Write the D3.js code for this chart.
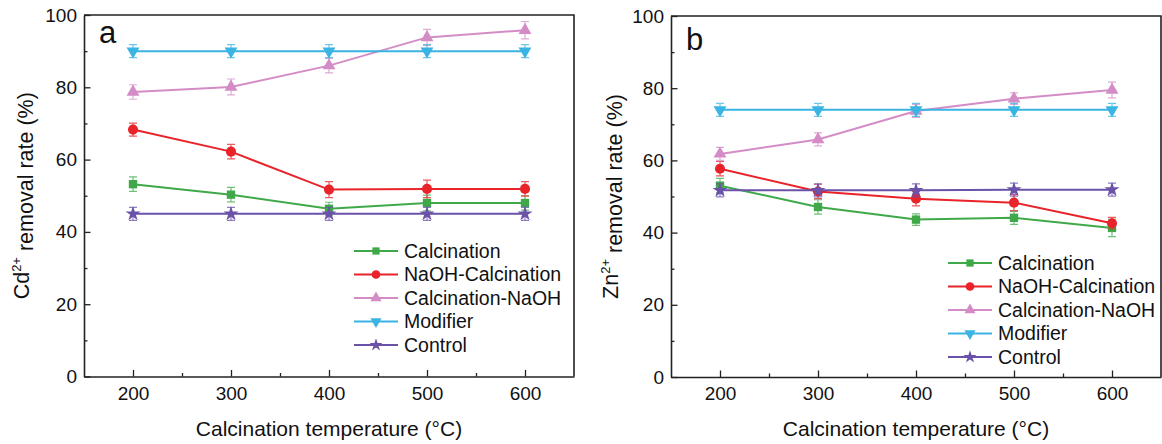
<!DOCTYPE html>
<html lang="en">
<head>
<meta charset="UTF-8">
<title>Removal rate vs calcination temperature</title>
<script src="https://cdn.jsdelivr.net/npm/d3@7"></script>
<style>
    body { margin: 0; background: #fff; }
    svg { font-family: "Liberation Sans", Arial, sans-serif; }
</style>
</head>
<body>
<svg id="chart" width="1162" height="444"></svg>
<script>
    // data
    var temperatures = [200, 300, 400, 500, 600];
    var seriesNames = ["Calcination", "NaOH-Calcination", "Calcination-NaOH", "Modifier", "Control"];
    var seriesColors = ["#3fa94a", "#e8232a", "#d48cc6", "#3ab4e2", "#6b52a9"];
    var seriesSymbols = ["square", "circle", "triangleUp", "triangleDown", "star"];

    var cdCalcination = [53.2, 50.3, 46.4, 48.0, 48.0];
    var cdNaohCalcination = [68.3, 62.2, 51.7, 51.9, 51.9];
    var cdCalcinationNaoh = [78.7, 80.1, 86.0, 93.8, 95.8];
    var cdModifier = [90.0, 90.0, 90.0, 90.0, 90.0];
    var cdControl = [45.0, 45.0, 45.0, 45.0, 45.0];
    var cdCalcinationErr = [2.0, 2.0, 1.8, 2.2, 2.0];
    var cdNaohCalcinationErr = [1.8, 2.0, 2.2, 2.4, 2.0];
    var cdCalcinationNaohErr = [2.0, 2.2, 2.0, 2.2, 2.4];
    var cdModifierErr = [1.8, 1.8, 1.8, 1.8, 1.8];
    var cdControlErr = [1.8, 1.8, 1.8, 1.8, 1.8];

    var znCalcination = [53.0, 47.1, 43.6, 44.1, 41.3];
    var znNaohCalcination = [57.7, 51.4, 49.4, 48.3, 42.6];
    var znCalcinationNaoh = [61.8, 65.8, 73.7, 77.1, 79.5];
    var znModifier = [74.0, 74.0, 74.0, 74.0, 74.0];
    var znControl = [51.7, 51.7, 51.7, 51.9, 51.9];
    var znCalcinationErr = [2.0, 2.0, 1.6, 1.8, 2.4];
    var znNaohCalcinationErr = [2.0, 2.0, 2.0, 2.2, 1.6];
    var znCalcinationNaohErr = [1.8, 1.8, 1.8, 1.6, 2.2];
    var znModifierErr = [1.8, 1.8, 1.8, 1.8, 1.8];
    var znControlErr = [1.8, 1.8, 1.8, 1.8, 1.8];

    var xTicks = [200, 300, 400, 500, 600];
    var xMinorTicks = [250, 350, 450, 550];
    var yTicks = [0, 20, 40, 60, 80, 100];
    var yMinorTicks = [10, 30, 50, 70, 90];

    var svg = d3.select("#chart");

    function symbolPath(kind, size) {
        var type = {
            square: d3.symbolSquare,
            circle: d3.symbolCircle,
            triangleUp: d3.symbolTriangle,
            triangleDown: d3.symbolTriangle,
            star: d3.symbolStar
        }[kind];
        return d3.symbol().type(type).size(size)();
    }
    var symbolSizes = { square: 70, circle: 80, triangleUp: 72, triangleDown: 72, star: 70 };

    function drawPanel(opts) {
        var left = opts.left, top = opts.top, w = 490, h = opts.bottom - opts.top;
        var g = svg.append("g").attr("transform", `translate(${left},${top})`);

        var x = d3.scaleLinear().domain([150, 650]).range([0, w]);
        var y = d3.scaleLinear().domain([0, 100]).range([h, 0]);

        // minor ticks first
        g.append("g")
            .attr("transform", `translate(0,${h})`)
            .call(d3.axisBottom(x).tickValues(xMinorTicks).tickSize(-3.5).tickFormat(""))
            .call(a => a.select(".domain").remove());
        g.append("g")
            .call(d3.axisLeft(y).tickValues(yMinorTicks).tickSize(-3.5).tickFormat(""))
            .call(a => a.select(".domain").remove());

        var xAxis = g.append("g")
            .attr("transform", `translate(0,${h})`)
            .call(d3.axisBottom(x).tickValues(xTicks).tickSize(-6.5).tickSizeOuter(0).tickPadding(10));
        var yAxis = g.append("g")
            .call(d3.axisLeft(y).tickValues(yTicks).tickSize(-6.5).tickSizeOuter(0).tickPadding(7));

        [xAxis, yAxis].forEach(function(a) {
            a.selectAll("text").attr("font-size", "19px").attr("fill", "#111").attr("font-family", null);
            a.select(".domain").attr("stroke", "#222").attr("stroke-width", 1.6);
        });
        g.selectAll(".tick line").attr("stroke", "#222").attr("stroke-width", 1.3);

        // top and right frame
        g.append("path")
            .attr("d", `M0,0H${w}V${h}`)
            .attr("fill", "none")
            .attr("stroke", "#222")
            .attr("stroke-width", 1.6);

        var line = d3.line()
            .x((d, i) => x(temperatures[i]))
            .y(d => y(d));

        opts.values.forEach(function(vals, s) {
            var color = seriesColors[s];
            var sg = g.append("g");
            var errs = opts.errors[s];

            // error bars
            vals.forEach(function(v, i) {
                var cx = x(temperatures[i]);
                var y1 = y(v + errs[i]), y2 = y(v - errs[i]);
                sg.append("path")
                    .attr("d", `M${cx},${y1}V${y2}M${cx - 4},${y1}H${cx + 4}M${cx - 4},${y2}H${cx + 4}`)
                    .attr("stroke", color)
                    .attr("stroke-opacity", 0.75)
                    .attr("stroke-width", 1.2)
                    .attr("fill", "none");
            });

            sg.append("path")
                .datum(vals)
                .attr("d", line)
                .attr("fill", "none")
                .attr("stroke", color)
                .attr("stroke-width", 2);

            var kind = seriesSymbols[s];
            sg.selectAll(".pt")
                .data(vals)
                .enter()
                .append("path")
                .attr("d", symbolPath(kind, symbolSizes[kind]))
                .attr("transform", (d, i) => `translate(${x(temperatures[i])},${y(d)})` + (kind === "triangleDown" ? " rotate(180)" : ""))
                .attr("fill", color);
        });

        // panel letter
        g.append("text")
            .attr("x", opts.letterX)
            .attr("y", opts.letterY)
            .attr("font-size", "31px")
            .attr("fill", "#111")
            .text(opts.letter);

        // legend
        var lg = g.append("g").attr("transform", `translate(${opts.legendX},${opts.legendY})`);
        seriesNames.forEach(function(name, s) {
            var row = lg.append("g").attr("transform", `translate(0,${s * 23.5})`);
            row.append("line")
                .attr("x1", 0).attr("x2", 44)
                .attr("stroke", seriesColors[s])
                .attr("stroke-width", 2);
            var kind = seriesSymbols[s];
            row.append("path")
                .attr("d", symbolPath(kind, symbolSizes[kind] * 0.75))
                .attr("transform", "translate(22,0)" + (kind === "triangleDown" ? " rotate(180)" : ""))
                .attr("fill", seriesColors[s]);
            row.append("text")
                .attr("x", 50)
                .attr("dy", "0.35em")
                .attr("font-size", "19.5px")
                .attr("fill", "#111")
                .text(name);
        });

        // axis titles
        g.append("text")
            .attr("x", w / 2)
            .attr("y", h + 59)
            .attr("text-anchor", "middle")
            .attr("font-size", "21px")
            .attr("fill", "#111")
            .text("Calcination temperature (°C)");

        var yt = g.append("text")
            .attr("transform", `translate(${opts.yTitleX},${h / 2}) rotate(-90)`)
            .attr("text-anchor", "middle")
            .attr("dy", "0.35em")
            .attr("font-size", "21.5px")
            .attr("fill", "#111");
        yt.append("tspan").text(opts.ion);
        yt.append("tspan").attr("dy", "-0.55em").attr("font-size", "13px").text("2+");
        yt.append("tspan").attr("dy", "0.55em").text(" removal rate (%)");
    }

    drawPanel({
        left: 84, top: 15, bottom: 376.5,
        values: [cdCalcination, cdNaohCalcination, cdCalcinationNaoh, cdModifier, cdControl],
        errors: [cdCalcinationErr, cdNaohCalcinationErr, cdCalcinationNaohErr, cdModifierErr, cdControlErr],
        letter: "a", letterX: 15, letterY: 28,
        legendX: 270, legendY: 236,
        yTitleX: -63, ion: "Cd"
    });

    drawPanel({
        left: 671, top: 16, bottom: 377,
        values: [znCalcination, znNaohCalcination, znCalcinationNaoh, znModifier, znControl],
        errors: [znCalcinationErr, znNaohCalcinationErr, znCalcinationNaohErr, znModifierErr, znControlErr],
        letter: "b", letterX: 15, letterY: 34,
        legendX: 277, legendY: 247,
        yTitleX: -61, ion: "Zn"
    });
</script>
</body>
</html>
